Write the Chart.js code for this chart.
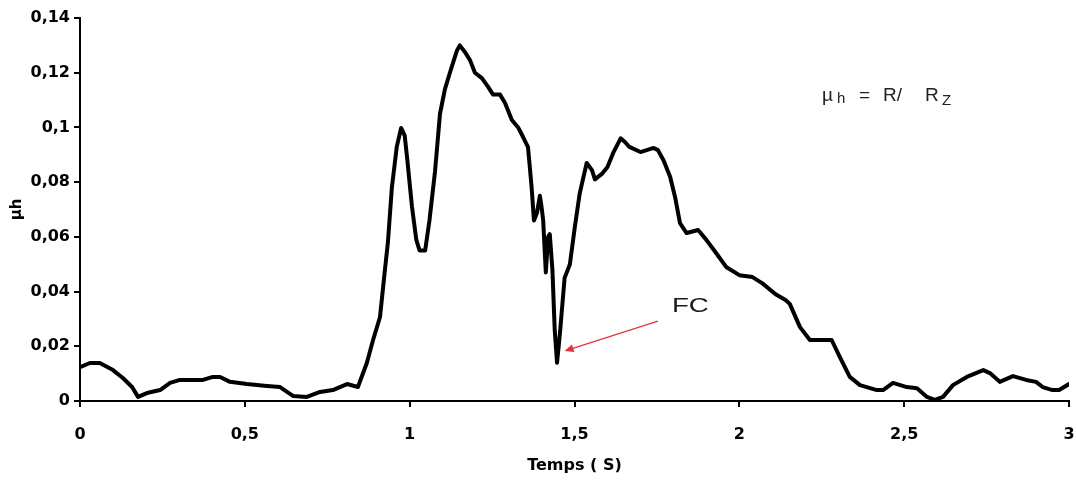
<!DOCTYPE html>
<html>
<head>
<meta charset="utf-8">
<script src="https://cdn.jsdelivr.net/npm/chart.js@4.4.1/dist/chart.umd.min.js"></script>
<style>
  html, body { margin: 0; padding: 0; background: #ffffff; }
  #wrap { width: 1077px; height: 481px; }
</style>
</head>
<body>
<div id="wrap"><canvas id="c" width="1077" height="481"></canvas></div>
<script>
// ---- data ----
const times = [
  0, 0.03, 0.06, 0.1, 0.13, 0.158, 0.176, 0.203, 0.243, 0.273, 0.303, 0.373, 0.403, 0.425, 0.455,
  0.506, 0.567, 0.607, 0.647, 0.688, 0.728, 0.767, 0.81, 0.843, 0.87, 0.889, 0.91, 0.925, 0.934,
  0.946, 0.961, 0.974, 0.985, 0.993, 1.007, 1.02, 1.03, 1.047, 1.06, 1.077, 1.092, 1.107, 1.122,
  1.143, 1.152, 1.168, 1.183, 1.198, 1.219, 1.238, 1.253, 1.274, 1.289, 1.31, 1.329, 1.344, 1.359,
  1.37, 1.377, 1.386, 1.395, 1.4, 1.405, 1.413, 1.42, 1.425, 1.433, 1.44, 1.447, 1.456, 1.47,
  1.486, 1.501, 1.516, 1.537, 1.553, 1.562, 1.583, 1.6, 1.617, 1.64, 1.653, 1.665, 1.7, 1.74,
  1.753, 1.77, 1.79, 1.805, 1.82, 1.84, 1.875, 1.9, 1.93, 1.96, 2.0, 2.04, 2.07, 2.11, 2.14,
  2.153, 2.184, 2.214, 2.28, 2.305, 2.335, 2.366, 2.417, 2.436, 2.466, 2.508, 2.539, 2.569, 2.593,
  2.618, 2.648, 2.69, 2.74, 2.76, 2.79, 2.83, 2.87, 2.9, 2.92, 2.95, 2.97, 3.0
];
const muH = [
  0.0124, 0.0139, 0.0139, 0.0113, 0.0084, 0.0051, 0.0015, 0.0029, 0.004, 0.0066, 0.0077, 0.0077, 0.0088, 0.0088, 0.007,
  0.0062, 0.0055, 0.0051, 0.0018, 0.0015, 0.0033, 0.004, 0.0062, 0.0051, 0.0139, 0.0223, 0.0307, 0.048, 0.058,
  0.078, 0.093, 0.0998, 0.097, 0.088, 0.071, 0.059, 0.055, 0.055, 0.066, 0.084, 0.105, 0.114, 0.12,
  0.128, 0.130, 0.1275, 0.1246, 0.12, 0.118, 0.1148, 0.112, 0.112, 0.109, 0.1027, 0.1, 0.0965, 0.0928,
  0.078, 0.066, 0.0687, 0.075, 0.071, 0.066, 0.047, 0.06, 0.061, 0.048, 0.026, 0.014, 0.025, 0.045,
  0.05, 0.0636, 0.076, 0.087, 0.0844, 0.081, 0.083, 0.0855, 0.0906, 0.096, 0.0947, 0.093, 0.091, 0.0925,
  0.0917, 0.088, 0.082, 0.0746, 0.065, 0.0614, 0.0625, 0.0589, 0.054, 0.049, 0.046, 0.0453, 0.043, 0.039, 0.0369,
  0.0355, 0.027, 0.0223, 0.0223, 0.016, 0.0088, 0.0058, 0.004, 0.004, 0.0066, 0.0051, 0.0047, 0.0015, 0.0004,
  0.0015, 0.0058, 0.0088, 0.0113, 0.0102, 0.007, 0.0091, 0.0077, 0.007, 0.0051, 0.004, 0.004, 0.0062
];
const xTickLabels = ['0', '0,5', '1', '1,5', '2', '2,5', '3'];
const yTickLabels = ['0', '0,02', '0,04', '0,06', '0,08', '0,1', '0,12', '0,14'];
const xTitle = 'Temps ( S)';
const yTitle = 'µh';
const fcLabel = 'FC';
// annotation anchor points (data units)
const arrowTail = { x: 1.753, y: 0.0292 };
const arrowTip = { x: 1.47, y: 0.0183 };
const fcPos = { x: 1.7955, y: 0.0325 };
const formulaPos = { x: 2.2505, y: 0.1096 };

const points = times.map((t, i) => ({ x: t, y: muH[i] }));
const tickFont = { family: 'DejaVu Sans', size: 16, weight: 'bold' };

const annot = {
  id: 'annot',
  afterDraw(chart) {
    const ctx = chart.ctx;
    const xs = chart.scales.x, ys = chart.scales.y;
    // arrow
    const x1 = xs.getPixelForValue(arrowTail.x), y1 = ys.getPixelForValue(arrowTail.y);
    const x2 = xs.getPixelForValue(arrowTip.x), y2 = ys.getPixelForValue(arrowTip.y);
    const ang = Math.atan2(y2 - y1, x2 - x1);
    ctx.save();
    ctx.strokeStyle = '#e0353c';
    ctx.fillStyle = '#e0353c';
    ctx.lineWidth = 1.3;
    ctx.beginPath();
    ctx.moveTo(x1, y1);
    ctx.lineTo(x2 - 7 * Math.cos(ang), y2 - 7 * Math.sin(ang));
    ctx.stroke();
    ctx.beginPath();
    ctx.moveTo(x2, y2);
    ctx.lineTo(x2 - 9 * Math.cos(ang) + 4 * Math.sin(ang), y2 - 9 * Math.sin(ang) - 4 * Math.cos(ang));
    ctx.lineTo(x2 - 9 * Math.cos(ang) - 4 * Math.sin(ang), y2 - 9 * Math.sin(ang) + 4 * Math.cos(ang));
    ctx.closePath();
    ctx.fill();
    ctx.restore();

    // FC label
    ctx.save();
    ctx.fillStyle = '#1a1a1a';
    ctx.font = '21px "Liberation Sans", Arial, sans-serif';
    ctx.textBaseline = 'alphabetic';
    ctx.translate(xs.getPixelForValue(fcPos.x), ys.getPixelForValue(fcPos.y));
    ctx.scale(1.32, 1);
    ctx.fillText(fcLabel, 0, 0);
    ctx.restore();

    // formula  µh = R/ RZ
    ctx.save();
    ctx.fillStyle = '#222';
    ctx.textBaseline = 'alphabetic';
    const px = xs.getPixelForValue(formulaPos.x);
    const py = ys.getPixelForValue(formulaPos.y);
    const big = '19px "Liberation Sans", Arial, sans-serif';
    const small = '15px "Liberation Sans", Arial, sans-serif';
    const parts = [
      ['µ', big, 0, 0], ['h', small, 15, 2], ['=', big, 37, 0],
      ['R/', big, 61, 0], ['R', big, 103, 0], ['Z', small, 120, 4]
    ];
    for (const [txt, f, dx, dy] of parts) {
      ctx.font = f;
      ctx.fillText(txt, px + dx, py + dy);
    }
    ctx.restore();
  }
};

new Chart(document.getElementById('c'), {
  type: 'line',
  data: {
    datasets: [{
      data: points,
      borderColor: '#000000',
      borderWidth: 4,
      pointRadius: 0,
      tension: 0,
      fill: false,
      borderJoinStyle: 'round',
      borderCapStyle: 'round'
    }]
  },
  options: {
    responsive: false,
    animation: false,
    layout: { padding: { top: 18, right: 8, left: 0, bottom: 0 } },
    plugins: { legend: { display: false }, tooltip: { enabled: false } },
    scales: {
      x: {
        type: 'linear',
        min: 0, max: 3,
        afterFit(s) { s.height = 80; s.paddingLeft = 0; s.paddingRight = 0; },
        ticks: {
          stepSize: 0.5,
          color: '#000',
          font: tickFont,
          padding: 18,
          maxRotation: 0,
          callback: (v, i) => xTickLabels[i]
        },
        grid: { drawOnChartArea: false, drawTicks: true, tickLength: 6, color: '#000', lineWidth: 2 },
        border: { display: true, color: '#000', width: 2 },
        title: { display: true, text: xTitle, color: '#000', font: tickFont, padding: { top: 0, bottom: 6 } }
      },
      y: {
        min: 0, max: 0.14,
        afterFit(s) { s.width = 80; s.paddingTop = 0; s.paddingBottom = 0; },
        ticks: {
          stepSize: 0.02,
          color: '#000',
          font: tickFont,
          padding: 4,
          callback: (v, i) => yTickLabels[i]
        },
        grid: { drawOnChartArea: false, drawTicks: true, tickLength: 6, color: '#000', lineWidth: 2 },
        border: { display: true, color: '#000', width: 2 },
        title: { display: true, text: yTitle, color: '#000', font: { family: 'DejaVu Sans', size: 15, weight: 'bold' }, padding: { top: 8, bottom: 0 } }
      }
    }
  },
  plugins: [annot]
});
</script>
</body>
</html>
